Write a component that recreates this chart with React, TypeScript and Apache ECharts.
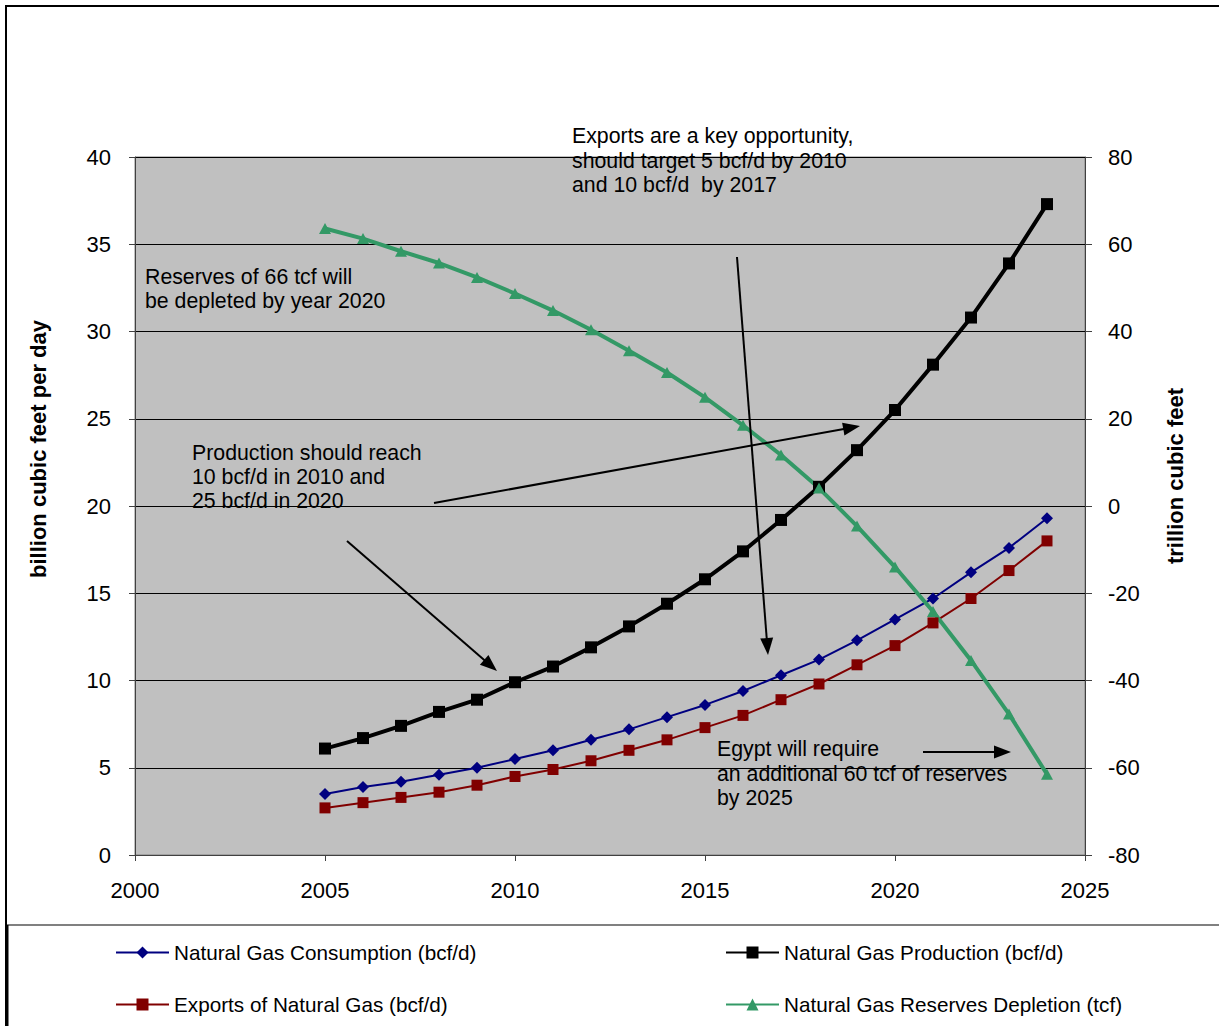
import React, { useEffect, useRef } from "react";
import * as echarts from "echarts";

// Forecast years
const years = [
  2005, 2006, 2007, 2008, 2009, 2010, 2011, 2012, 2013, 2014,
  2015, 2016, 2017, 2018, 2019, 2020, 2021, 2022, 2023, 2024,
];

// billion cubic feet per day
const consumption = [
  3.5, 3.9, 4.2, 4.6, 5.0, 5.5, 6.0, 6.6, 7.2, 7.9,
  8.6, 9.4, 10.3, 11.2, 12.3, 13.5, 14.7, 16.2, 17.6, 19.3,
];
const production = [
  6.1, 6.7, 7.4, 8.2, 8.9, 9.9, 10.8, 11.9, 13.1, 14.4,
  15.8, 17.4, 19.2, 21.1, 23.2, 25.5, 28.1, 30.8, 33.9, 37.3,
];
const exportsGas = [
  2.7, 3.0, 3.3, 3.6, 4.0, 4.5, 4.9, 5.4, 6.0, 6.6,
  7.3, 8.0, 8.9, 9.8, 10.9, 12.0, 13.3, 14.7, 16.3, 18.0,
];

// trillion cubic feet remaining
const reserves = [
  63.6, 61.3, 58.4, 55.7, 52.4, 48.7, 44.8, 40.4, 35.6, 30.6,
  24.9, 18.5, 11.7, 4.1, -4.6, -14.0, -24.2, -35.4, -47.7, -61.5,
];

const seriesNames = [
  "Natural Gas Consumption (bcf/d)",
  "Natural Gas Production (bcf/d)",
  "Exports of Natural Gas (bcf/d)",
  "Natural Gas Reserves Depletion (tcf)",
];

const leftAxisTitle = "billion cubic feet per day";
const rightAxisTitle = "trillion cubic feet";

const notes = {
  reserves: "Reserves of 66 tcf will\nbe depleted by year 2020",
  production: "Production should reach\n10 bcf/d in 2010 and\n25 bcf/d in 2020",
  exports: "Exports are a key opportunity,\nshould target 5 bcf/d by 2010\nand 10 bcf/d  by 2017",
  egypt: "Egypt will require\nan additional 60 tcf of reserves\nby 2025",
};

const FONT = "'Liberation Sans', Arial, Helvetica, sans-serif";

const pairs = (vals: number[]) => years.map((y, i) => [y, vals[i]]);

function arrow(x1: number, y1: number, x2: number, y2: number) {
  const dx = x2 - x1;
  const dy = y2 - y1;
  const len = Math.hypot(dx, dy);
  const ux = dx / len;
  const uy = dy / len;
  const hl = 17;
  const hw = 6.5;
  const bx = x2 - ux * hl;
  const by = y2 - uy * hl;
  return [
    {
      type: "line",
      z: 100,
      shape: { x1, y1, x2: bx + ux * 2, y2: by + uy * 2 },
      style: { stroke: "#000", lineWidth: 2 },
    },
    {
      type: "polygon",
      z: 100,
      shape: {
        points: [
          [x2, y2],
          [bx - uy * hw, by + ux * hw],
          [bx + uy * hw, by - ux * hw],
        ],
      },
      style: { fill: "#000" },
    },
  ];
}

function note(text: string, x: number, y: number, lineHeight: number) {
  return {
    type: "text",
    z: 100,
    x,
    y,
    style: {
      text,
      fill: "#000",
      fontSize: 21.3,
      fontFamily: FONT,
      lineHeight,
      textAlign: "left",
      textVerticalAlign: "top",
    },
  };
}

function axisTitle(text: string, x: number, y: number) {
  return {
    type: "text",
    z: 100,
    x,
    y,
    rotation: Math.PI / 2,
    style: {
      text,
      fill: "#000",
      fontSize: 22,
      fontWeight: "bold",
      fontFamily: FONT,
      textAlign: "center",
      textVerticalAlign: "middle",
    },
  };
}

const legendCommon = {
  orient: "horizontal",
  itemWidth: 53,
  itemHeight: 15,
  itemGap: 0,
  padding: 0,
  selectedMode: false,
  textStyle: { fontSize: 20.7, color: "#000", fontFamily: FONT },
};

export default function App() {
  const ref = useRef<HTMLDivElement>(null);

  useEffect(() => {
    if (!ref.current) return;
    const chart = echarts.init(ref.current, undefined, { renderer: "svg" });

    const axisLabel = {
      fontSize: 22,
      color: "#000",
      fontFamily: FONT,
      formatter: (v: number) => String(v),
    };

    chart.setOption({
      animation: false,
      backgroundColor: "#fff",
      grid: {
        left: 135,
        top: 157,
        width: 950,
        height: 698,
        show: true,
        backgroundColor: "#C0C0C0",
        borderColor: "#808080",
        borderWidth: 1,
        containLabel: false,
        outerBoundsMode: "none",
      },
      xAxis: {
        type: "value",
        min: 2000,
        max: 2025,
        interval: 5,
        axisLine: { show: true, onZero: false, lineStyle: { color: "#404040", width: 1 } },
        axisTick: { show: true, length: 6, lineStyle: { color: "#404040" } },
        axisLabel: { ...axisLabel, margin: 24 },
        splitLine: { show: false },
      },
      yAxis: [
        {
          type: "value",
          position: "left",
          min: 0,
          max: 40,
          interval: 5,
          axisLine: { show: true, lineStyle: { color: "#404040", width: 1 } },
          axisTick: { show: true, length: 6, lineStyle: { color: "#404040" } },
          axisLabel: { ...axisLabel, margin: 24 },
          splitLine: { show: true, lineStyle: { color: "#000", width: 1 } },
        },
        {
          type: "value",
          position: "right",
          min: -80,
          max: 80,
          interval: 20,
          axisLine: { show: true, lineStyle: { color: "#404040", width: 1 } },
          axisTick: { show: true, length: 7, lineStyle: { color: "#404040" } },
          axisLabel: { ...axisLabel, margin: 23 },
          splitLine: { show: false },
        },
      ],
      legend: [
        { ...legendCommon, data: [seriesNames[0]], left: 115, top: 942 },
        { ...legendCommon, data: [seriesNames[1]], left: 725, top: 942 },
        { ...legendCommon, data: [seriesNames[2]], left: 115, top: 994 },
        { ...legendCommon, data: [seriesNames[3]], left: 725, top: 994 },
      ],
      series: [
        {
          name: seriesNames[0],
          type: "line",
          yAxisIndex: 0,
          data: pairs(consumption),
          symbol: "diamond",
          symbolSize: [12, 12],
          lineStyle: { color: "#000080", width: 2 },
          itemStyle: { color: "#000080" },
        },
        {
          name: seriesNames[1],
          type: "line",
          yAxisIndex: 0,
          data: pairs(production),
          symbol: "rect",
          symbolSize: 12,
          lineStyle: { color: "#000", width: 4 },
          itemStyle: { color: "#000" },
        },
        {
          name: seriesNames[2],
          type: "line",
          yAxisIndex: 0,
          data: pairs(exportsGas),
          symbol: "rect",
          symbolSize: 11,
          lineStyle: { color: "#800000", width: 2 },
          itemStyle: { color: "#800000" },
        },
        {
          name: seriesNames[3],
          type: "line",
          yAxisIndex: 1,
          data: pairs(reserves),
          symbol: "triangle",
          symbolSize: [12, 11],
          lineStyle: { color: "#339966", width: 4 },
          itemStyle: { color: "#339966" },
        },
      ],
      graphic: [
        {
          type: "rect",
          z: 90,
          shape: { x: 6, y: 6, width: 1400, height: 1200 },
          style: { fill: "none", stroke: "#000", lineWidth: 2 },
        },
        {
          type: "line",
          z: 90,
          shape: { x1: 7, y1: 925, x2: 1219, y2: 925 },
          style: { stroke: "#808080", lineWidth: 2 },
        },
        {
          type: "line",
          z: 90,
          shape: { x1: 7, y1: 925, x2: 7, y2: 1026 },
          style: { stroke: "#000", lineWidth: 3 },
        },
        axisTitle(leftAxisTitle, 38, 449),
        axisTitle(rightAxisTitle, 1175, 476),
        note(notes.reserves, 145, 265, 24),
        note(notes.production, 192, 441, 24),
        note(notes.exports, 572, 124, 24.5),
        note(notes.egypt, 717, 737, 24.5),
        ...arrow(434, 503, 860, 426),
        ...arrow(347, 541, 497, 671),
        ...arrow(737, 257, 768, 655),
        ...arrow(923, 752, 1011, 752),
      ],
    });

    return () => chart.dispose();
  }, []);

  return (
    <div
      ref={ref}
      style={{ position: "absolute", left: 0, top: 0, width: 1219, height: 1026, background: "#fff" }}
    />
  );
}
